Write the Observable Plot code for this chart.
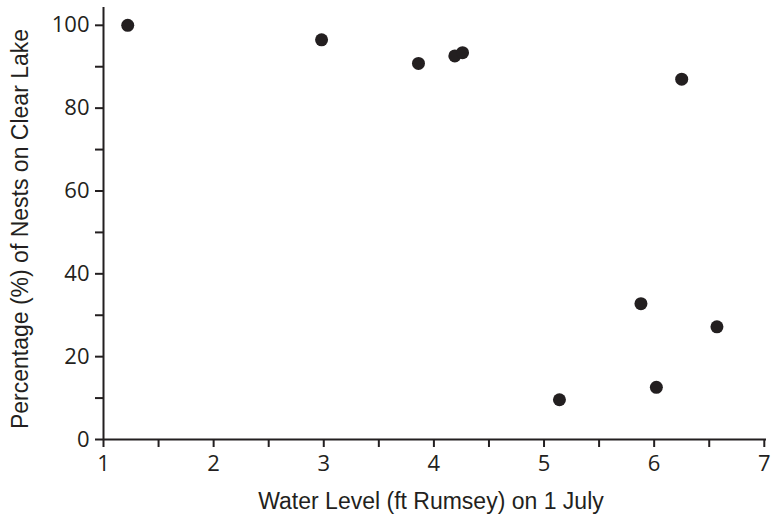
<!DOCTYPE html>
<html>
<head>
<meta charset="utf-8">
<script src="https://cdn.jsdelivr.net/npm/d3@7"></script>
<script src="https://cdn.jsdelivr.net/npm/@observablehq/plot@0.6"></script>
<style>
  body { margin: 0; background: #fff; }
  #chart { position: relative; width: 771px; height: 516px; }
</style>
</head>
<body>
<div id="chart"></div>
<script>
const waterLevel = [1.22, 2.98, 3.86, 4.19, 4.26, 6.25, 5.88, 6.57, 6.02, 5.14];
const nestPct    = [100, 96.5, 90.8, 92.6, 93.4, 87.0, 32.8, 27.2, 12.6, 9.6];
const xMajorTicks = [1, 2, 3, 4, 5, 6, 7];
const xMinorTicks = [1.5, 2.5, 3.5, 4.5, 5.5, 6.5];
const yMajorTicks = [0, 20, 40, 60, 80, 100];
const yMinorTicks = [10, 30, 50, 70, 90];
const xTitle = "Water Level (ft Rumsey) on 1 July";
const yTitle = "Percentage (%) of Nests on Clear Lake";

const data = waterLevel.map((x, i) => ({x, y: nestPct[i]}));
const ink = "#231f20";
const tickFont = "'Open Sans', sans-serif";

const chart = Plot.plot({
  width: 771,
  height: 516,
  marginLeft: 103,
  marginRight: 5,
  marginTop: 7,
  marginBottom: 77,
  x: {domain: [1, 7.02]},
  y: {domain: [0, 104.3]},
  style: {background: "#fff", color: ink},
  marks: [
    Plot.ruleY([0], {stroke: ink, strokeWidth: 2}),
    Plot.ruleX([1], {stroke: ink, strokeWidth: 2}),
    Plot.axisX(xMajorTicks, {tickSize: 8, tickPadding: 8, stroke: ink, strokeWidth: 2, fontSize: 22, fontFamily: tickFont, label: null, tickFormat: d => d}),
    Plot.axisX(xMinorTicks, {tickSize: 8, stroke: ink, strokeWidth: 2, tickFormat: null, text: null, label: null}),
    Plot.axisY(yMajorTicks, {tickSize: 8, tickPadding: 6, stroke: ink, strokeWidth: 2, fontSize: 22, fontFamily: tickFont, label: null, tickFormat: d => d}),
    Plot.axisY(yMinorTicks, {tickSize: 8, stroke: ink, strokeWidth: 2, tickFormat: null, text: null, label: null}),
    Plot.dot(data, {x: "x", y: "y", r: 6.5, fill: ink, stroke: "none"})
  ]
});
document.getElementById("chart").appendChild(chart);

const svg = d3.select(chart);
svg.append("text")
  .attr("x", 431).attr("y", 509)
  .attr("text-anchor", "middle")
  .attr("font-family", "'Liberation Sans', Arial, sans-serif")
  .attr("font-size", 23)
  .attr("fill", "#231f20")
  .text(xTitle);
svg.append("text")
  .attr("transform", "translate(28,229) rotate(-90)")
  .attr("text-anchor", "middle")
  .attr("font-family", "'Liberation Sans', Arial, sans-serif")
  .attr("font-size", 23)
  .attr("fill", "#231f20")
  .text(yTitle);
</script>
</body>
</html>
